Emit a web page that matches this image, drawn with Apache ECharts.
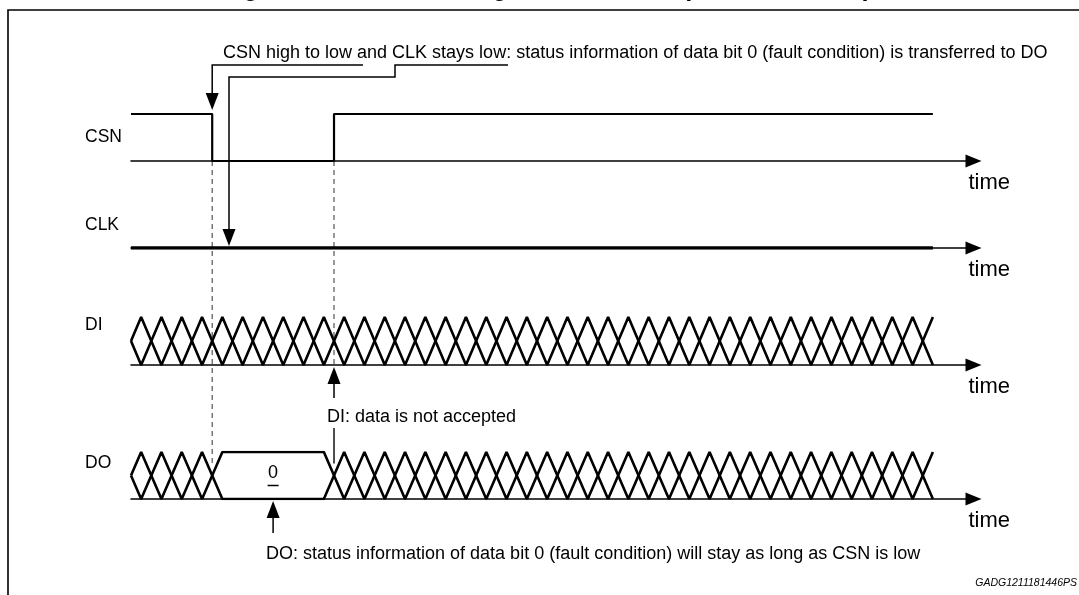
<!DOCTYPE html>
<html>
<head>
<meta charset="utf-8">
<script src="https://cdn.jsdelivr.net/npm/echarts@6/dist/echarts.min.js"></script>
<style>
html, body { margin: 0; padding: 0; background: #fff; }
#main { width: 1079px; height: 595px; }
</style>
</head>
<body>
<div id="main"></div>
<script>
// signal rows, top to bottom
var signalNames = ['CSN', 'CLK', 'DI', 'DO'];
// time in bit-cell units (one X of the bus = 1 unit)
var csnTimes = [0, 4, 4, 10, 10, 39.5];
var csnLevels = [1, 1, 0, 0, 1, 1];
var clkTimes = [0, 39.5];
var clkLevels = [0, 0];
// bus: [start, end] and intervals where the data is held stable
var diSpan = [0, 39.5];
var diHold = [];
var doSpan = [0, 39.5];
var doHold = [[4.5, 9.5]];
var doValue = '0';
var doValueAt = 7;
var timeMax = 41.5;

var FONT = 'Liberation Sans, Arial, sans-serif';

function zip(xs, ys) {
  return xs.map(function (x, i) { return [x, ys[i]]; });
}

// two crossing lines of a bus, vertices at half cells
function busLines(span, hold) {
  var a = [[span[0], 0.5]], b = [[span[0], 0.5]];
  var lvl = 0;
  for (var t = span[0] + 0.5; t <= span[1]; t += 1) {
    var held = hold.some(function (h) { return t > h[0] && t <= h[1]; });
    if (!held) lvl = 1 - lvl;
    a.push([t, lvl]);
    b.push([t, 1 - lvl]);
  }
  return [a, b];
}

var grids = [
  { left: 131, right: 105.5, top: 114, height: 47 },
  { left: 131, right: 105.5, top: 201, height: 47 },
  { left: 131, right: 105.5, top: 317, height: 48 },
  { left: 131, right: 105.5, top: 452, height: 47 }
];

var xAxes = grids.map(function (g, i) {
  return {
    type: 'value', gridIndex: i, min: 0, max: timeMax,
    name: 'time', nameLocation: 'end', nameGap: -5,
    nameTextStyle: { fontFamily: FONT, fontSize: 22, color: '#000', align: 'left', verticalAlign: 'top', padding: [11, 0, 0, 0] },
    axisLine: { show: true, symbol: ['none', 'triangle'], symbolSize: [13, 16], lineStyle: { color: '#000', width: 1.6 } },
    axisTick: { show: false }, axisLabel: { show: false }, splitLine: { show: false }
  };
});
var yAxes = grids.map(function (g, i) {
  return { type: 'value', gridIndex: i, min: 0, max: 1, show: false };
});

function lineSeries(i, data, w) {
  return {
    type: 'line', xAxisIndex: i, yAxisIndex: i, data: data, symbol: 'none',
    silent: true, lineStyle: { color: '#000', width: w }
  };
}

var di = busLines(diSpan, diHold);
var dO = busLines(doSpan, doHold);

var chart = echarts.init(document.getElementById('main'));
chart.setOption({
  animation: false,
  grid: grids,
  xAxis: xAxes,
  yAxis: yAxes,
  series: [
    lineSeries(0, zip(csnTimes, csnLevels), 2.2),
    lineSeries(1, zip(clkTimes, clkLevels), 3.6),
    lineSeries(2, di[0], 2.6),
    lineSeries(2, di[1], 2.6),
    lineSeries(3, dO[0], 2.6),
    lineSeries(3, dO[1], 2.6)
  ]
});

function px(g, t, v) { return chart.convertToPixel({ gridIndex: g }, [t, v]); }

function arrowHead(x, y, dir) {
  // dir 1 = pointing down, -1 = pointing up
  return {
    type: 'polygon', silent: true,
    shape: { points: [[x, y], [x - 6.5, y - dir * 17], [x + 6.5, y - dir * 17]] },
    style: { fill: '#000' }
  };
}
function seg(points, w, dash, color) {
  return {
    type: 'polyline', silent: true, shape: { points: points },
    style: { stroke: color || '#000', lineWidth: w, lineDash: dash || null, fill: null }
  };
}
function txt(x, y, s, opt) {
  opt = opt || {};
  return {
    type: 'text', silent: true, x: x, y: y,
    style: {
      text: s, fill: '#000', fontFamily: FONT, fontSize: opt.size || 18,
      fontWeight: opt.weight || 'normal', fontStyle: opt.style || 'normal',
      align: opt.align || 'left', verticalAlign: 'middle'
    }
  };
}

var xFall = px(0, csnTimes[1], 0)[0];
var xRise = px(0, csnTimes[3], 0)[0];
var yCsnLow = px(0, 0, 0)[1];
var yDiLow = px(2, 0, 0)[1];
var yDoMid = px(3, 0, 0.5)[1];
var pVal = px(3, doValueAt, 0.5);
var yDoLow = px(3, 0, 0)[1];
var yClk = px(1, 0, 0)[1];
var labelY = [137, 225, 325, 463];

var graphic = [
  { type: 'rect', silent: true, shape: { x: 8, y: 10, width: 1200, height: 700 }, style: { fill: null, stroke: '#000', lineWidth: 1.6 } },
  txt(221, -11, 'Figure 8', { size: 25, weight: 'bold' }),
  txt(426, -11, 'Timing of Status Bus (fault condition)', { size: 25, weight: 'bold' }),
  txt(1077, 583, 'GADG1211181446PS', { size: 10.5, style: 'italic', align: 'right' }),
  // dashed guides from the CSN edges
  seg([[xFall, yCsnLow], [xFall, yDoMid - 12]], 1.2, [5, 4], '#555'),
  seg([[xRise, yCsnLow], [xRise, yDiLow]], 1.2, [5, 4], '#555'),
  seg([[xRise, 428], [xRise, yDoMid - 12]], 1.4),
  // top note with its two leaders
  txt(223, 53, 'CSN high to low and CLK stays low: status information of data bit 0 (fault condition) is transferred to DO'),
  seg([[363, 65], [xFall, 65], [xFall, 100]], 1.5),
  arrowHead(xFall, 110, 1),
  seg([[508, 65], [395, 65], [395, 77], [229, 77], [229, yClk - 12]], 1.5),
  arrowHead(229, yClk - 2, 1),
  // DI note
  seg([[xRise, yDiLow + 10], [xRise, 398]], 1.5),
  arrowHead(xRise, yDiLow + 2, -1),
  txt(327, 417, 'DI: data is not accepted'),
  // DO note
  seg([[pVal[0], yDoLow + 10], [pVal[0], 533]], 1.5),
  arrowHead(pVal[0], yDoLow + 2, -1),
  txt(266, 554, 'DO: status information of data bit 0 (fault condition) will stay as long as CSN is low'),
  // held value on DO
  txt(pVal[0], pVal[1] - 2, doValue, { size: 18, align: 'center' }),
  seg([[pVal[0] - 5.5, pVal[1] + 10], [pVal[0] + 5.5, pVal[1] + 10]], 1.5)
];
signalNames.forEach(function (n, i) {
  graphic.push(txt(85, labelY[i], n, { size: 17.5 }));
});
chart.setOption({ graphic: graphic });
</script>
</body>
</html>
